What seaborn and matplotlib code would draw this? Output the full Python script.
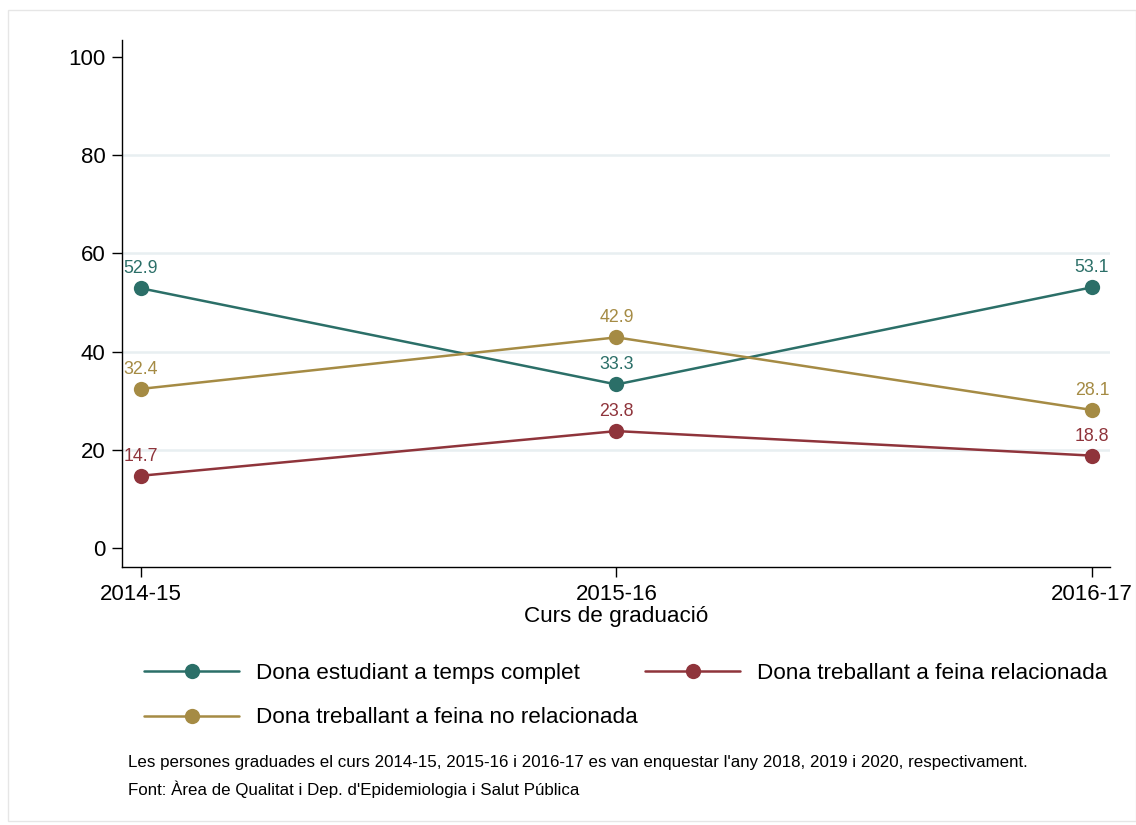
import pandas as pd
import seaborn as sns
import matplotlib.pyplot as plt
from matplotlib.lines import Line2D
from matplotlib.patches import Rectangle

# data
cursos = ["2014-15", "2015-16", "2016-17"]
estudiant = [52.9, 33.3, 53.1]
relacionada = [14.7, 23.8, 18.8]
no_relacionada = [32.4, 42.9, 28.1]
series_names = ["Dona estudiant a temps complet",
                "Dona treballant a feina relacionada",
                "Dona treballant a feina no relacionada"]
colors = ["#2b6f68", "#8f343b", "#a58b44"]
yticks = [0, 20, 40, 60, 80, 100]

rows = []
for name, vals in zip(series_names, [estudiant, relacionada, no_relacionada]):
    for i, (c, v) in enumerate(zip(cursos, vals)):
        rows.append({"curs": c, "pos": i, "valor": v, "serie": name})
df = pd.DataFrame(rows)

sns.set_theme(style="white")
plt.rcParams["font.family"] = ["Liberation Sans", "DejaVu Sans"]
plt.rcParams["text.color"] = "black"
plt.rcParams["xtick.color"] = "black"
plt.rcParams["ytick.color"] = "black"
plt.rcParams["axes.labelcolor"] = "black"

fig = plt.figure(figsize=(11.36, 8.25), dpi=100)
ax = fig.add_axes([122 / 1136, 1 - 567 / 825, (1110 - 122) / 1136, (567 - 40) / 825])

pal = dict(zip(series_names, colors))
sns.lineplot(data=df, x="pos", y="valor", hue="serie", palette=pal,
             marker="o", markersize=11, markeredgewidth=0, linewidth=1.8,
             legend=False, ax=ax, zorder=3)

# value labels above points
for name, vals in zip(series_names, [estudiant, relacionada, no_relacionada]):
    for i, v in enumerate(vals):
        ax.annotate(f"{v:.1f}", (i, v), xytext=(0, 8), textcoords="offset points",
                    ha="center", va="bottom", color=pal[name], fontsize=12.8)

ax.set_xlim(-0.04, 2.038)
ax.set_ylim(-3.9, 103.5)
ax.set_xticks(range(len(cursos)))
ax.set_xticklabels(cursos)
ax.set_yticks(yticks)
ax.set_xlabel("Curs de graduació", fontsize=16.2, labelpad=1)
ax.set_ylabel("")
ax.tick_params(axis="both", labelsize=16, length=7, width=1, color="black",
               direction="out", bottom=True, left=True, pad=5)
for yv in yticks[1:-1]:
    ax.axhline(yv, color="#e8eff1", linewidth=1.8, zorder=0)
for s in ["top", "right"]:
    ax.spines[s].set_visible(False)
for s in ["left", "bottom"]:
    ax.spines[s].set_color("black")
    ax.spines[s].set_linewidth(1)

# legend row-wise: estudiant, relacionada / no relacionada
order = [0, 2, 1]
handles = [Line2D([0], [0], color=colors[k], marker="o", markersize=11,
                  linewidth=1.8, markeredgewidth=0) for k in order]
labels = [series_names[k] for k in order]
fig.legend(handles, labels, ncol=2, frameon=False, fontsize=16.2,
           loc="upper left", bbox_to_anchor=(124 / 1136, 1 - 643 / 825),
           handlelength=4.2, handletextpad=0.75, columnspacing=0.35,
           labelspacing=1.03)

fig.text(128 / 1136, 1 - 762 / 825,
         "Les persones graduades el curs 2014-15, 2015-16 i 2016-17 es van enquestar l'any 2018, 2019 i 2020, respectivament.",
         fontsize=12.2, va="center")
fig.text(128 / 1136, 1 - 789 / 825,
         "Font: Àrea de Qualitat i Dep. d'Epidemiologia i Salut Pública",
         fontsize=12.2, va="center")

fig.patches.append(Rectangle((8 / 1136, 0.005), 1 - 8 / 1136, 1 - 10 / 825 - 0.005,
                             transform=fig.transFigure, fill=False,
                             edgecolor="#e6e6e6", linewidth=1))

fig.savefig("out.png", dpi=100, facecolor="white")
